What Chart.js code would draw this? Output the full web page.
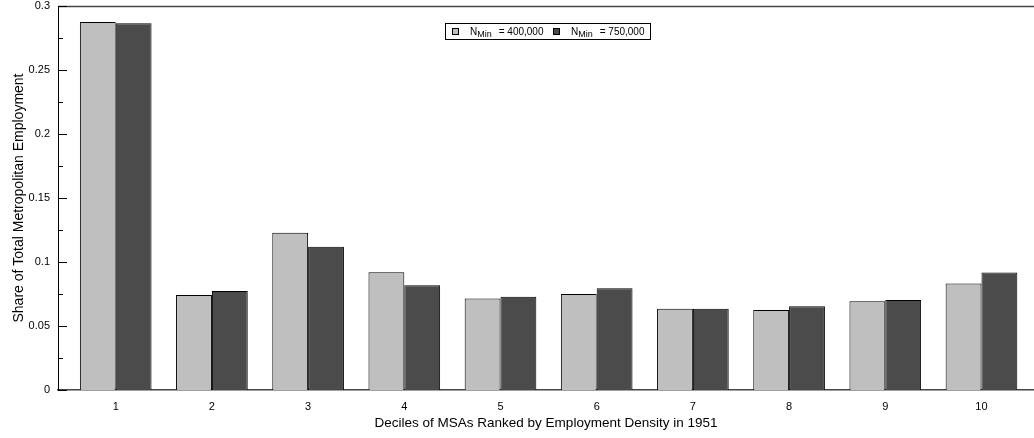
<!DOCTYPE html>
<html>
<head>
<meta charset="utf-8">
<script src="https://cdn.jsdelivr.net/npm/chart.js@4"></script>
<style>
  html, body { margin: 0; padding: 0; background: #fff; }
  #wrap { width: 1034px; height: 438px; position: relative; }
</style>
</head>
<body>
<div id="wrap"><canvas id="c" width="1034" height="438"></canvas></div>
<script>
const categories = [1, 2, 3, 4, 5, 6, 7, 8, 9, 10];
const nmin400 = [0.2875, 0.0742, 0.1229, 0.0919, 0.0714, 0.0750, 0.0635, 0.0625, 0.0693, 0.0833];
const nmin750 = [0.2865, 0.0773, 0.1120, 0.0818, 0.0729, 0.0794, 0.0635, 0.0654, 0.0703, 0.0917];
const seriesNames = ['400,000', '750,000'];
const yTicks = [0, 0.05, 0.1, 0.15, 0.2, 0.25, 0.3];
const yMinorTicks = [0.025, 0.075, 0.125, 0.175, 0.225, 0.275];

const FONT = '"Liberation Sans", Arial, sans-serif';
const lightColor = '#bfbfbf';
const darkColor = '#4b4b4b';

const framePlugin = {
  id: 'frame',
  afterDraw(chart) {
    const ctx = chart.ctx;
    const a = chart.chartArea;
    const y = chart.scales.y;
    ctx.save();
    // top frame line
    ctx.strokeStyle = '#444';
    ctx.lineWidth = 1.5;
    ctx.beginPath();
    ctx.moveTo(a.left, a.top + 0.5);
    ctx.lineTo(a.right, a.top + 0.5);
    ctx.stroke();
    // inward ticks on y axis
    ctx.strokeStyle = '#000';
    ctx.lineWidth = 1;
    yTicks.forEach(v => {
      const py = Math.round(y.getPixelForValue(v)) + 0.5;
      ctx.beginPath(); ctx.moveTo(a.left, py); ctx.lineTo(a.left + 9, py); ctx.stroke();
    });
    yMinorTicks.forEach(v => {
      const py = Math.round(y.getPixelForValue(v)) + 0.5;
      ctx.beginPath(); ctx.moveTo(a.left, py); ctx.lineTo(a.left + 5, py); ctx.stroke();
    });
    // legend box
    const lx = 445, ly = 23, lw = 205, lh = 16;
    ctx.fillStyle = '#fff';
    ctx.fillRect(lx, ly, lw, lh);
    ctx.strokeStyle = '#000';
    ctx.lineWidth = 1;
    ctx.strokeRect(lx + 0.5, ly + 0.5, lw, lh);
    const colors = [lightColor, darkColor];
    const starts = [452, 553];
    const base = ly + 12;
    ctx.textBaseline = 'alphabetic';
    ctx.textAlign = 'left';
    seriesNames.forEach((name, i) => {
      let x = starts[i];
      ctx.fillStyle = colors[i];
      ctx.fillRect(x, ly + 5, 6, 6);
      ctx.strokeStyle = '#000';
      ctx.strokeRect(x + 0.5, ly + 5.5, 6, 6);
      x += 18;
      ctx.fillStyle = '#000';
      ctx.font = '10px ' + FONT;
      ctx.fillText('N', x, base);
      x += ctx.measureText('N').width;
      ctx.font = '9px ' + FONT;
      ctx.fillText('Min', x, base + 2);
      x += ctx.measureText('Min').width + 7;
      ctx.font = '10px ' + FONT;
      ctx.fillText('= ' + name, x, base);
    });
    ctx.restore();
  }
};

new Chart(document.getElementById('c'), {
  type: 'bar',
  data: {
    datasets: [
      {
        label: 'NMin = ' + seriesNames[0],
        data: categories.map((c, i) => ({ x: c, y: nmin400[i] })),
        backgroundColor: lightColor,
        borderColor: '#000',
        borderWidth: 1,
        categoryPercentage: 0.745,
        barPercentage: 1.0
      },
      {
        label: 'NMin = ' + seriesNames[1],
        data: categories.map((c, i) => ({ x: c, y: nmin750[i] })),
        backgroundColor: darkColor,
        borderColor: '#000',
        borderWidth: 1,
        categoryPercentage: 0.745,
        barPercentage: 1.0
      }
    ]
  },
  options: {
    responsive: false,
    animation: false,
    devicePixelRatio: 1,
    layout: { padding: { top: 6, right: 0, left: 0, bottom: 0 } },
    plugins: {
      legend: { display: false },
      tooltip: { enabled: false }
    },
    scales: {
      x: {
        type: 'linear',
        offset: false,
        min: 0.4,
        max: 10.546,
        grid: { display: false, drawTicks: false },
        border: { display: true, color: '#444', width: 1.5 },
        ticks: {
          stepSize: 1,
          includeBounds: false,
          autoSkip: false,
          maxRotation: 0,
          padding: 10,
          color: '#000',
          font: { family: FONT, size: 11 },
          callback: (v) => (Number.isInteger(v) && categories.includes(v)) ? String(v) : ''
        },
        title: {
          display: true,
          text: 'Deciles of MSAs Ranked by Employment Density in 1951',
          color: '#000',
          font: { family: FONT, size: 13.5 },
          padding: { top: 0, bottom: 7 }
        },
        afterFit(scale) { scale.height = 48; scale.paddingLeft = 0; scale.paddingRight = 0; }
      },
      y: {
        min: 0,
        max: 0.3,
        grid: { display: false, drawTicks: false },
        border: { display: true, color: '#000', width: 1 },
        ticks: {
          stepSize: 0.05,
          padding: 8,
          color: '#000',
          font: { family: FONT, size: 11 },
          callback: (v) => String(Number(v.toFixed(3)))
        },
        title: {
          display: true,
          text: 'Share of Total Metropolitan Employment',
          color: '#000',
          font: { family: FONT, size: 14 },
          padding: { top: 11, bottom: 0 }
        },
        afterFit(scale) { scale.width = 58; scale.paddingTop = 0; scale.paddingBottom = 0; }
      }
    }
  },
  plugins: [framePlugin]
});
</script>
</body>
</html>
